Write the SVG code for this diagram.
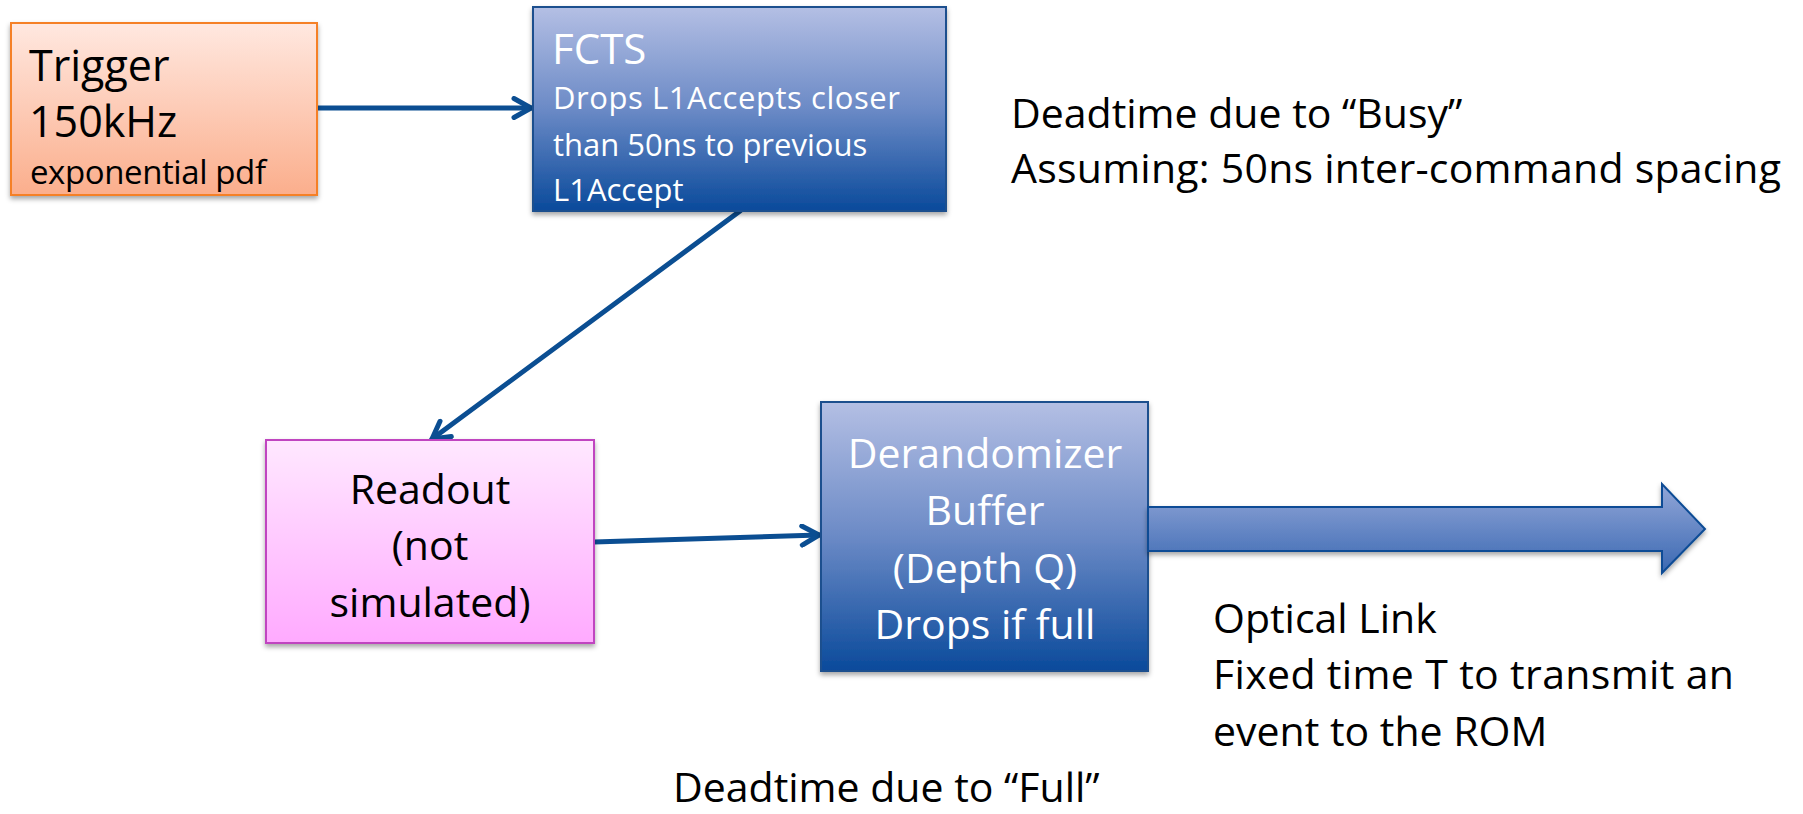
<svg xmlns="http://www.w3.org/2000/svg" width="1803" height="814" viewBox="0 0 1803 814">
  <style>
    text { font-family: "Open Sans", "Liberation Sans", sans-serif; }
    .big { font-size: 41px; }
    .small { font-size: 31px; }
    .dark { fill: #000000; }
    .light { fill: #ffffff; }
    .conn { fill: none; stroke: #0B4E92; stroke-width: 5; stroke-linecap: round; }
  </style>
  <defs>
    <linearGradient id="gTrigger" x1="0" y1="0" x2="0" y2="1">
      <stop offset="0" stop-color="#FFE8E0"/>
      <stop offset="1" stop-color="#FBAE8C"/>
    </linearGradient>
    <linearGradient id="gBlue" x1="0" y1="0" x2="0" y2="1">
      <stop offset="0" stop-color="#B4BFE4"/>
      <stop offset="0.5" stop-color="#6B8AC6"/>
      <stop offset="1" stop-color="#0A4A9B"/>
    </linearGradient>
    <linearGradient id="gPink" x1="0" y1="0" x2="0" y2="1">
      <stop offset="0" stop-color="#FFE8FF"/>
      <stop offset="1" stop-color="#FFAAFF"/>
    </linearGradient>
    <linearGradient id="gLink" x1="0" y1="0" x2="0" y2="1">
      <stop offset="0" stop-color="#93A7D8"/>
      <stop offset="1" stop-color="#3A68B2"/>
    </linearGradient>
    <filter id="shadow" x="-10%" y="-10%" width="120%" height="130%">
      <feDropShadow dx="0" dy="3" stdDeviation="2.5" flood-color="#000000" flood-opacity="0.35"/>
    </filter>
    <marker id="head" viewBox="0 0 24 24" refX="21" refY="12" markerWidth="24" markerHeight="24" markerUnits="userSpaceOnUse" orient="auto">
      <path d="M4,2.5 L21,12 L4,21.5" fill="none" stroke="#0B4E92" stroke-width="5" stroke-linecap="round" stroke-linejoin="round"/>
    </marker>
  </defs>

  <!-- connectors -->
  <g id="connectors">
    <line class="conn" x1="317" y1="108" x2="531" y2="108" marker-end="url(#head)"/>
    <line class="conn" x1="740" y1="211" x2="432" y2="439" marker-end="url(#head)"/>
    <line class="conn" x1="594" y1="542" x2="819" y2="535" marker-end="url(#head)"/>
  </g>

  <!-- trigger source -->
  <g id="trigger">
    <rect x="11" y="23" width="306" height="172" fill="url(#gTrigger)" stroke="#F58025" stroke-width="2" filter="url(#shadow)"/>
    <text class="dark" x="29" y="81" font-size="43">Trigger</text>
    <text class="dark" x="29" y="137" font-size="43">150kHz</text>
    <text class="dark" x="30" y="184" font-size="33" textLength="236">exponential pdf</text>
  </g>

  <!-- FCTS -->
  <g id="fcts">
    <rect x="533" y="7" width="413" height="204" fill="url(#gBlue)" stroke="#1C4F8E" stroke-width="2" filter="url(#shadow)"/>
    <text class="light" x="552" y="64" font-size="42">FCTS</text>
    <text class="small light" x="553" y="109" textLength="347">Drops L1Accepts closer</text>
    <text class="small light" x="553" y="156">than 50ns to previous</text>
    <text class="small light" x="553" y="201">L1Accept</text>
  </g>

  <!-- readout -->
  <g id="readout">
    <rect x="266" y="440" width="328" height="203" fill="url(#gPink)" stroke="#C045C0" stroke-width="2" filter="url(#shadow)"/>
    <text class="big dark" x="430" y="504" text-anchor="middle">Readout</text>
    <text class="big dark" x="430" y="560" text-anchor="middle">(not</text>
    <text class="big dark" x="430" y="617" text-anchor="middle">simulated)</text>
  </g>

  <!-- derandomizer buffer -->
  <g id="derandomizer">
    <rect x="821" y="402" width="327" height="269" fill="url(#gBlue)" stroke="#1C4F8E" stroke-width="2" filter="url(#shadow)"/>
    <text class="big light" x="985" y="468" text-anchor="middle">Derandomizer</text>
    <text class="big light" x="985" y="525" text-anchor="middle">Buffer</text>
    <text class="big light" x="985" y="583" text-anchor="middle">(Depth Q)</text>
    <text class="big light" x="985" y="639" text-anchor="middle">Drops if full</text>
  </g>

  <!-- optical link -->
  <g id="optical-link">
    <polygon points="1148,507 1662,507 1662,484 1705,529 1662,573 1662,551 1148,551" fill="url(#gLink)" stroke="#0B4C95" stroke-width="2" stroke-linejoin="miter" filter="url(#shadow)"/>
  </g>

  <!-- annotations -->
  <g id="notes">
    <text class="big dark" x="1011" y="128">Deadtime due to “Busy”</text>
    <text class="big dark" x="1011" y="183" textLength="770">Assuming: 50ns inter-command spacing</text>
    <text class="big dark" x="1213" y="633">Optical Link</text>
    <text class="big dark" x="1213" y="689" textLength="521">Fixed time T to transmit an</text>
    <text class="big dark" x="1213" y="746">event to the ROM</text>
    <text class="big dark" x="673" y="802">Deadtime due to “Full”</text>
  </g>
</svg>
